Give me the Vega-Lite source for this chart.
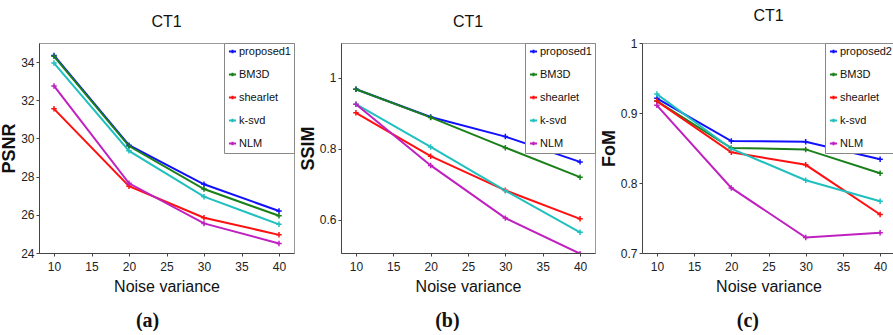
{
  "$schema": "https://vega.github.io/schema/vega-lite/v6.json",
  "background": "white",
  "padding": {"left": 0, "top": 7, "right": 0, "bottom": 0},
  "datasets": {
    "a": [
      {"method": "proposed1", "nv": 10, "value": 34.35}, {"method": "proposed1", "nv": 20, "value": 29.65}, {"method": "proposed1", "nv": 30, "value": 27.6}, {"method": "proposed1", "nv": 40, "value": 26.2},
      {"method": "BM3D", "nv": 10, "value": 34.3}, {"method": "BM3D", "nv": 20, "value": 29.6}, {"method": "BM3D", "nv": 30, "value": 27.35}, {"method": "BM3D", "nv": 40, "value": 25.95},
      {"method": "shearlet", "nv": 10, "value": 31.55}, {"method": "shearlet", "nv": 20, "value": 27.5}, {"method": "shearlet", "nv": 30, "value": 25.85}, {"method": "shearlet", "nv": 40, "value": 24.95},
      {"method": "k-svd", "nv": 10, "value": 33.95}, {"method": "k-svd", "nv": 20, "value": 29.35}, {"method": "k-svd", "nv": 30, "value": 26.95}, {"method": "k-svd", "nv": 40, "value": 25.5},
      {"method": "NLM", "nv": 10, "value": 32.75}, {"method": "NLM", "nv": 20, "value": 27.65}, {"method": "NLM", "nv": 30, "value": 25.55}, {"method": "NLM", "nv": 40, "value": 24.5}
    ],
    "b": [
      {"method": "proposed1", "nv": 10, "value": 0.967}, {"method": "proposed1", "nv": 20, "value": 0.889}, {"method": "proposed1", "nv": 30, "value": 0.834}, {"method": "proposed1", "nv": 40, "value": 0.763},
      {"method": "BM3D", "nv": 10, "value": 0.967}, {"method": "BM3D", "nv": 20, "value": 0.888}, {"method": "BM3D", "nv": 30, "value": 0.803}, {"method": "BM3D", "nv": 40, "value": 0.72},
      {"method": "shearlet", "nv": 10, "value": 0.901}, {"method": "shearlet", "nv": 20, "value": 0.779}, {"method": "shearlet", "nv": 30, "value": 0.683}, {"method": "shearlet", "nv": 40, "value": 0.603},
      {"method": "k-svd", "nv": 10, "value": 0.925}, {"method": "k-svd", "nv": 20, "value": 0.805}, {"method": "k-svd", "nv": 30, "value": 0.682}, {"method": "k-svd", "nv": 40, "value": 0.565},
      {"method": "NLM", "nv": 10, "value": 0.925}, {"method": "NLM", "nv": 20, "value": 0.753}, {"method": "NLM", "nv": 30, "value": 0.605}, {"method": "NLM", "nv": 40, "value": 0.505}
    ],
    "c": [
      {"method": "proposed2", "nv": 10, "value": 0.921}, {"method": "proposed2", "nv": 20, "value": 0.86}, {"method": "proposed2", "nv": 30, "value": 0.859}, {"method": "proposed2", "nv": 40, "value": 0.834},
      {"method": "BM3D", "nv": 10, "value": 0.917}, {"method": "BM3D", "nv": 20, "value": 0.85}, {"method": "BM3D", "nv": 30, "value": 0.848}, {"method": "BM3D", "nv": 40, "value": 0.814},
      {"method": "shearlet", "nv": 10, "value": 0.917}, {"method": "shearlet", "nv": 20, "value": 0.844}, {"method": "shearlet", "nv": 30, "value": 0.826}, {"method": "shearlet", "nv": 40, "value": 0.755},
      {"method": "k-svd", "nv": 10, "value": 0.927}, {"method": "k-svd", "nv": 20, "value": 0.849}, {"method": "k-svd", "nv": 30, "value": 0.804}, {"method": "k-svd", "nv": 40, "value": 0.774},
      {"method": "NLM", "nv": 10, "value": 0.911}, {"method": "NLM", "nv": 20, "value": 0.793}, {"method": "NLM", "nv": 30, "value": 0.722}, {"method": "NLM", "nv": 40, "value": 0.729}
    ]
  },
  "config": {
    "view": {"stroke": "#9a9a9a", "strokeWidth": 1},
    "axis": {
      "grid": false,
      "domainColor": "#444",
      "tickColor": "#444",
      "tickSize": 3,
      "labelColor": "#222",
      "labelFont": "Liberation Sans",
      "labelFontSize": 12,
      "titleFont": "Liberation Sans",
      "titleFontSize": 16,
      "titleFontWeight": "normal",
      "titleColor": "#111"
    },
    "axisY": {"titleFont": "Liberation Sans", "titleFontWeight": "bold", "titleFontSize": 18, "titlePadding": 2, "labelPadding": 2, "format": "~g"},
    "axisX": {"titlePadding": 6, "labelPadding": 5},
    "legend": {
      "orient": "top-right",
      "offset": 0,
      "title": null,
      "strokeColor": "#888",
      "fillColor": "white",
      "padding": 3,
      "labelFont": "Liberation Sans",
      "labelFontSize": 11,
      "labelColor": "#111",
      "symbolType": "M-1,0H1M0,-0.5V0.5",
      "symbolSize": 50,
      "symbolStrokeWidth": 2,
      "symbolOffset": 0,
      "labelOffset": 1,
      "rowPadding": 10
    },
    "title": {"font": "Liberation Sans", "fontSize": 16, "fontWeight": "normal", "color": "#111"}
  },
  "resolve": {"scale": {"color": "independent"}, "legend": {"color": "independent"}},
  "spacing": 3,
  "hconcat": [
    {
      "title": {"text": "(a)", "orient": "bottom", "anchor": "middle", "font": "Liberation Serif", "fontSize": 20, "fontWeight": "bold", "offset": 16},
      "resolve": {"scale": {"color": "independent"}, "legend": {"color": "independent"}},
      "vconcat": [
        {
          "width": 255, "height": 210,
          "title": {"text": "CT1", "anchor": "middle", "frame": "group", "offset": 13},
          "data": {"name": "a"},
          "encoding": {
            "x": {"field": "nv", "type": "quantitative", "scale": {"domain": [8, 42], "nice": false}, "axis": {"values": [10, 15, 20, 25, 30, 35, 40], "title": "Noise variance"}},
            "y": {"field": "value", "type": "quantitative", "scale": {"domain": [24, 35], "nice": false, "zero": false}, "axis": {"values": [24, 26, 28, 30, 32, 34], "title": "PSNR"}},
            "color": {"field": "method", "type": "nominal", "scale": {"domain": ["proposed1", "BM3D", "shearlet", "k-svd", "NLM"], "range": ["#1010ff", "#1a801a", "#ff1010", "#20c0c0", "#c020c0"]}}
          },
          "layer": [
            {"mark": {"type": "line", "strokeWidth": 2}},
            {"mark": {"type": "point", "shape": "M-1,0H1M0,-1V1", "size": 30, "strokeWidth": 1.5, "filled": false, "opacity": 1}}
          ]
        }
      ]
    },
    {
      "title": {"text": "(b)", "orient": "bottom", "anchor": "middle", "font": "Liberation Serif", "fontSize": 20, "fontWeight": "bold", "offset": 16},
      "resolve": {"scale": {"color": "independent"}, "legend": {"color": "independent"}},
      "vconcat": [
        {
          "width": 254, "height": 210,
          "title": {"text": "CT1", "anchor": "middle", "frame": "group", "offset": 13},
          "data": {"name": "b"},
          "encoding": {
            "x": {"field": "nv", "type": "quantitative", "scale": {"domain": [8, 42], "nice": false}, "axis": {"values": [10, 15, 20, 25, 30, 35, 40], "title": "Noise variance"}},
            "y": {"field": "value", "type": "quantitative", "scale": {"domain": [0.507, 1.097], "nice": false, "zero": false}, "axis": {"values": [0.6, 0.8, 1], "title": "SSIM"}},
            "color": {"field": "method", "type": "nominal", "scale": {"domain": ["proposed1", "BM3D", "shearlet", "k-svd", "NLM"], "range": ["#1010ff", "#1a801a", "#ff1010", "#20c0c0", "#c020c0"]}}
          },
          "layer": [
            {"mark": {"type": "line", "strokeWidth": 2, "clip": true}},
            {"mark": {"type": "point", "shape": "M-1,0H1M0,-1V1", "size": 30, "strokeWidth": 1.5, "filled": false, "opacity": 1, "clip": true}}
          ]
        }
      ]
    },
    {
      "title": {"text": "(c)", "orient": "bottom", "anchor": "middle", "font": "Liberation Serif", "fontSize": 20, "fontWeight": "bold", "offset": 16},
      "resolve": {"scale": {"color": "independent"}, "legend": {"color": "independent"}},
      "vconcat": [
        {
          "width": 253, "height": 210,
          "title": {"text": "CT1", "anchor": "middle", "frame": "group", "offset": 13},
          "data": {"name": "c"},
          "encoding": {
            "x": {"field": "nv", "type": "quantitative", "scale": {"domain": [8, 42], "nice": false}, "axis": {"values": [10, 15, 20, 25, 30, 35, 40], "title": "Noise variance"}},
            "y": {"field": "value", "type": "quantitative", "scale": {"domain": [0.7, 1.0], "nice": false, "zero": false}, "axis": {"values": [0.7, 0.8, 0.9, 1], "title": "FoM"}},
            "color": {"field": "method", "type": "nominal", "scale": {"domain": ["proposed2", "BM3D", "shearlet", "k-svd", "NLM"], "range": ["#1010ff", "#1a801a", "#ff1010", "#20c0c0", "#c020c0"]}}
          },
          "layer": [
            {"mark": {"type": "line", "strokeWidth": 2}},
            {"mark": {"type": "point", "shape": "M-1,0H1M0,-1V1", "size": 30, "strokeWidth": 1.5, "filled": false, "opacity": 1}}
          ]
        }
      ]
    }
  ]
}
